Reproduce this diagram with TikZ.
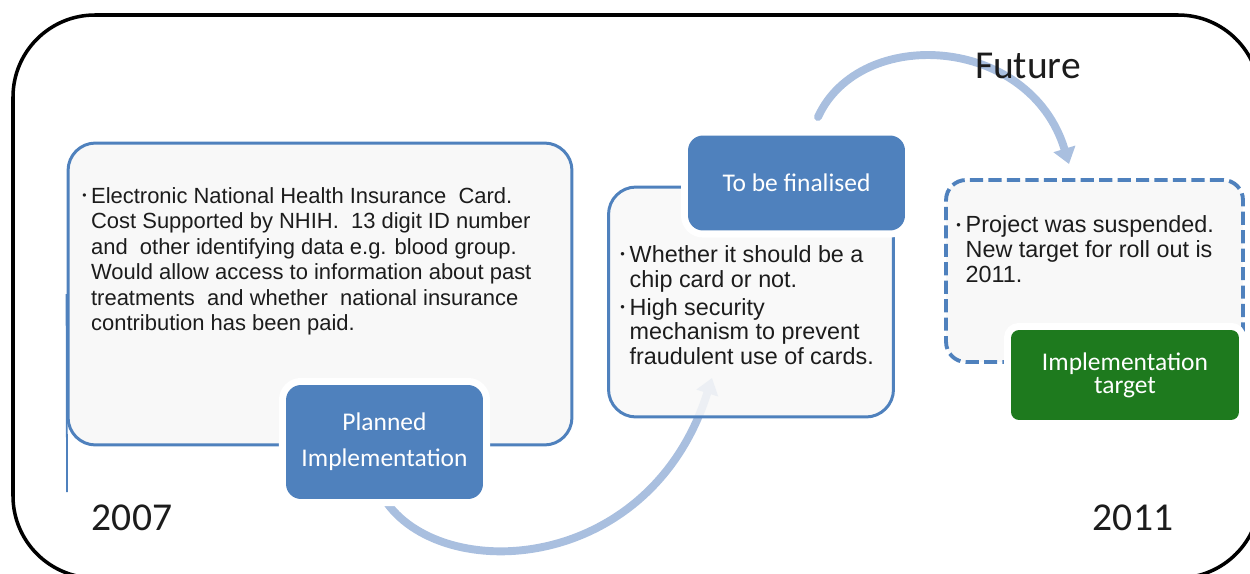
\documentclass[tikz,border=0pt]{standalone}
\usepackage{fontspec}
\setmainfont{Liberation Sans}
\newfontfamily\calib{Carlito}
\usetikzlibrary{arrows.meta}
\usetikzlibrary{backgrounds}
\definecolor{boxblue}{RGB}{79,129,189}
\definecolor{arcblue}{RGB}{169,191,223}
\definecolor{implgreen}{RGB}{30,122,30}
\definecolor{paper}{RGB}{248,248,248}
\definecolor{ink}{RGB}{28,28,28}
\newcommand \pnt {\makebox[0.4em][l]{\raisebox{0.3ex}{\scalebox{0.55}{\textbullet}}}}
\tikzstyle{card}=[rectangle,rounded corners=0.55cm,draw=boxblue,line width=1.7pt,fill=paper,inner sep=0mm]
\tikzstyle{plancard}=[card,rounded corners=0.4cm,line width=2.2pt,dash pattern=on 7.5pt off 3pt]
\tikzstyle{tag}=[rectangle,rounded corners=0.3cm,fill=boxblue,text=white,inner sep=0mm,align=center,
  font=\calib\fontsize{14.5}{20.5}\selectfont,preaction={draw=white,line width=8pt}]
\tikzstyle{gtag}=[tag,rounded corners=0.16cm,fill=implgreen,font=\calib\fontsize{14.5}{13}\selectfont]
\tikzstyle{notes}=[anchor=north west,inner sep=0mm,text=ink,font=\fontsize{12.5}{14.5}\selectfont]
\tikzstyle{year}=[inner sep=0mm,text=ink,font=\calib\fontsize{22.5}{27}\selectfont]
\tikzstyle{arc}=[line width=4.5pt,draw=arcblue,line cap=round,-{Triangle[width=12.5pt,length=9pt]}]

\begin{document}
\begin{tikzpicture}[x=0.02cm,y=-0.02cm]
      \useasboundingbox (0,0) rectangle (1250,574);
      \clip (0,0) rectangle (1250,574);
      \draw[line width=2pt,rounded corners=1.64cm] (13,15) rectangle (1260,578);
      % cards
      \node[card,minimum width=10.08cm,minimum height=6.04cm] at (320,294) (card) {};
      \coordinate (tail) at (67,492);
      \draw[boxblue,line width=1pt] (card.west) -- (tail);
      \node[tag,minimum width=3.94cm,minimum height=2.28cm] at (384.5,442) (plan) {Planned\\Implementation};
      \node[card,fill opacity=0.85,minimum width=5.7cm,minimum height=4.6cm] at (751,302) (open) {};
      \node[tag,minimum width=4.34cm,minimum height=1.9cm] at (796.5,183) (fin) {To be finalised};
      \node[plancard,minimum width=5.94cm,minimum height=3.64cm] at (1094.5,271) (target) {};
      \node[gtag,minimum width=4.56cm,minimum height=1.8cm] at (1125,375) (impl) {Implementation\\target};
      % arcs behind the cards
      \coordinate (a1e) at (712,378);
      \coordinate (a2s) at (818,117);
      \coordinate (a2e) at (1069,164);
      \begin{scope}[on background layer]
        \draw[arc] (plan.south) .. controls (440,585) and (650,575) .. (a1e);
        \draw[arc] (a2s) .. controls (860,25) and (1030,35) .. (a2e);
      \end{scope}
      % texts
      \node[notes] at (82,185) (cardtxt) {\begin{tabular}{@{}l@{}l@{}}
        \pnt & Electronic National Health Insurance\ \ Card.\\
        & Cost Supported by NHIH.\ \ 13 digit ID number\\
        & and\ \ other identifying data e.g. blood group.\\
        & Would allow access to information about past\\
        & treatments\ \ and whether\ \ national insurance\\
        & contribution has been paid.
      \end{tabular}};
      \node[notes,font=\fontsize{13.3}{14}\selectfont] at (620,245) (opentxt) {\begin{tabular}{@{}l@{}l@{}}
        \pnt & Whether it should be a\\
        & chip card or not.\\[2pt]
        \pnt & High security\\
        & mechanism to prevent\\
        & fraudulent use of cards.
      \end{tabular}};
      \node[notes,font=\fontsize{13.3}{14.2}\selectfont] at (956,215) (targettxt) {\begin{tabular}{@{}l@{}l@{}}
        \pnt & Project was suspended.\\
        & New target for roll out is\\
        & 2011.
      \end{tabular}};
      \node[year] at (1028,66) (future) {Future};
      \node[year] at (132,518) (start) {2007};
      \node[year] at (1133,518) (end) {2011};
\end{tikzpicture}
\end{document}
